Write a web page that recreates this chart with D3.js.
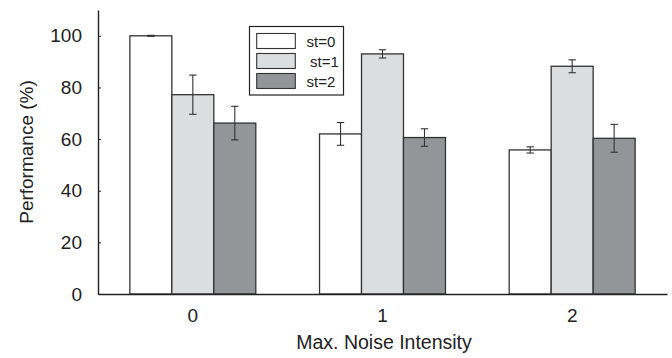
<!DOCTYPE html>
<html>
<head>
<meta charset="utf-8">
<script src="https://cdn.jsdelivr.net/npm/d3@7"></script>
<style>
  body { margin: 0; background: #fff; }
  svg { font-family: "Liberation Sans", Arial, sans-serif; }
</style>
</head>
<body>
<div id="chart"></div>
<script>
const groups = ["0", "1", "2"];
const series = ["st=0", "st=1", "st=2"];
// mean performance per group, one array per series
const st0 = [100, 62.0, 55.8];
const st1 = [77.2, 93.0, 88.2];
const st2 = [66.2, 60.6, 60.3];
// error bar half-lengths
const err0 = [0.2, 4.4, 1.2];
const err1 = [7.6, 1.6, 2.5];
const err2 = [6.5, 3.4, 5.4];
const yTicks = [0, 20, 40, 60, 80, 100];

const fills = ["#ffffff", "#dcdddf", "#939598"];
const values = [st0, st1, st2];
const errors = [err0, err1, err2];

const width = 672, height = 358;
const margin = { top: 10, right: 5, bottom: 64, left: 98 };

const svg = d3.select("#chart")
    .append("svg")
    .attr("width", width)
    .attr("height", height);

const x0 = d3.scaleBand()
    .domain(groups)
    .range([margin.left, width - margin.right])
    .paddingInner(0.336)
    .paddingOuter(0.168);

const x1 = d3.scaleBand()
    .domain(series)
    .range([0, x0.bandwidth()]);

const y = d3.scaleLinear()
    .domain([0, 110])
    .range([height - margin.bottom, margin.top]);

// bars
groups.forEach((g, gi) => {
    series.forEach((s, si) => {
        const v = values[si][gi];
        svg.append("rect")
            .attr("x", x0(g) + x1(s))
            .attr("y", y(v))
            .attr("width", x1.bandwidth())
            .attr("height", y(0) - y(v))
            .attr("fill", fills[si])
            .attr("stroke", "#333")
            .attr("stroke-width", 1.3);
    });
});

// error bars
groups.forEach((g, gi) => {
    series.forEach((s, si) => {
        const v = values[si][gi], e = errors[si][gi];
        const cx = x0(g) + x1(s) + x1.bandwidth() / 2;
        const eb = svg.append("g").attr("stroke", "#333").attr("stroke-width", 1.1);
        eb.append("line").attr("x1", cx).attr("x2", cx).attr("y1", y(v + e)).attr("y2", y(v - e));
        eb.append("line").attr("x1", cx - 3.7).attr("x2", cx + 3.7).attr("y1", y(v + e)).attr("y2", y(v + e));
        eb.append("line").attr("x1", cx - 3.7).attr("x2", cx + 3.7).attr("y1", y(v - e)).attr("y2", y(v - e));
    });
});

// y axis
const yAxis = svg.append("g")
    .attr("transform", `translate(${margin.left},0)`)
    .call(d3.axisLeft(y).tickValues(yTicks).tickSize(-3).tickSizeOuter(0).tickPadding(16));
yAxis.select(".domain").attr("stroke", "#222").attr("stroke-width", 1.4);
yAxis.selectAll(".tick line").attr("stroke", "#222");
yAxis.selectAll(".tick text").attr("font-size", 19).attr("fill", "#222")
    .attr("font-family", "'Liberation Sans', Arial, sans-serif");

// x axis
const xAxis = svg.append("g")
    .attr("transform", `translate(0,${y(0)})`)
    .call(d3.axisBottom(x0).tickSize(0).tickSizeOuter(0).tickPadding(15));
xAxis.select(".domain").attr("stroke", "#222").attr("stroke-width", 1.4);
xAxis.selectAll(".tick text").attr("font-size", 19).attr("fill", "#222")
    .attr("font-family", "'Liberation Sans', Arial, sans-serif");

// axis titles
svg.append("text")
    .attr("transform", `translate(33,${(margin.top + y(0)) / 2}) rotate(-90)`)
    .attr("text-anchor", "middle")
    .attr("font-size", 19)
    .attr("fill", "#222")
    .text("Performance (%)");

svg.append("text")
    .attr("x", 384)
    .attr("y", 348.5)
    .attr("text-anchor", "middle")
    .attr("font-size", 19.5)
    .attr("fill", "#222")
    .text("Max. Noise Intensity");

// legend
const legend = svg.append("g");
legend.append("rect")
    .attr("x", 249.5).attr("y", 26.5)
    .attr("width", 94).attr("height", 68.5)
    .attr("fill", "#fff").attr("stroke", "#222").attr("stroke-width", 1.2);
series.forEach((s, si) => {
    legend.append("rect")
        .attr("x", 256.7).attr("y", 33.5 + si * 20)
        .attr("width", 38.6).attr("height", 15)
        .attr("fill", fills[si]).attr("stroke", "#333").attr("stroke-width", 1.1);
    legend.append("text")
        .attr("x", si === 1 ? 310 : 306.5)
        .attr("y", 46.5 + si * 20)
        .attr("font-size", 15)
        .attr("fill", "#222")
        .text(s);
});
</script>
</body>
</html>
